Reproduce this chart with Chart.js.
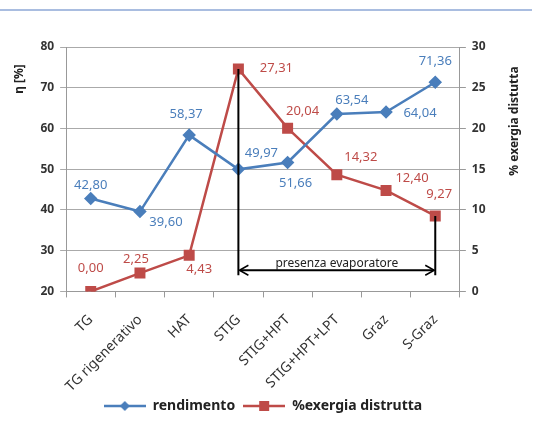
<!DOCTYPE html>
<html>
<head>
<meta charset="utf-8">
<script src="https://cdn.jsdelivr.net/npm/chart.js@4.4.0/dist/chart.umd.min.js"></script>
<style>
  html, body { margin: 0; padding: 0; background: #fff; }
  #wrap { position: relative; width: 539px; height: 435px; }
  #topline { position: absolute; left: 0; top: 9px; width: 532px; height: 2px; background: #a9bde0; }
</style>
</head>
<body>
<div id="wrap">
  <div id="topline"></div>
  <canvas id="c" width="539" height="435"></canvas>
</div>
<script>
// --- dati ---
const categories = ['TG', 'TG rigenerativo', 'HAT', 'STIG', 'STIG+HPT', 'STIG+HPT+LPT', 'Graz', 'S-Graz'];
const rendimento = [42.80, 39.60, 58.37, 49.97, 51.66, 63.54, 64.04, 71.36];
const exergia = [0.00, 2.25, 4.43, 27.31, 20.04, 14.32, 12.40, 9.27];
const etaTicks = [20, 30, 40, 50, 60, 70, 80];
const exTicks = [0, 5, 10, 15, 20, 25, 30];

// posizione etichette (offset in px)
const blueLabelPos = [[0, -13], [26, 11], [-3, -21], [23, -16], [8, 21], [15, -14], [34, 1], [0, -21]];
const redLabelPos = [[0, -23], [-4, -14], [10, 14], [38, -1], [15, -17], [24, -17], [26, -12], [4, -22]];

const BLUE = '#4a7ebb';
const RED = '#be4b48';
const FONT = '"Noto Sans", "Open Sans", sans-serif';
const LEFT_TITLE = 'η [%]';
const RIGHT_TITLE = '% exergia distutta';

function legendIcon(color, shape) {
  const cv = document.createElement('canvas');
  cv.width = 42; cv.height = 12;
  const g = cv.getContext('2d');
  g.strokeStyle = color; g.lineWidth = 2.5;
  g.beginPath(); g.moveTo(0, 6); g.lineTo(42, 6); g.stroke();
  g.fillStyle = color;
  if (shape === 'diamond') {
    g.beginPath(); g.moveTo(21, 1); g.lineTo(26, 6); g.lineTo(21, 11); g.lineTo(16, 6); g.closePath(); g.fill();
  } else {
    g.fillRect(16, 1, 10, 10);
  }
  return cv;
}
const iconBlue = legendIcon(BLUE, 'diamond');
const iconRed = legendIcon(RED, 'square');

// --- etichette e freccia ---
const annotPlugin = {
  id: 'annot',
  afterDatasetsDraw(chart) {
    const ctx = chart.ctx;
    const xs = chart.scales.x, y = chart.scales.y, y1 = chart.scales.y1;
    const redMeta = chart.getDatasetMeta(1);
    const area = chart.chartArea;
    // linee nere
    const xa = xs.getPixelForValue(3), xb = xs.getPixelForValue(7);
    const yArrow = y1.getPixelForValue(2.6);
    const yBottom = y1.getPixelForValue(2.0);
    ctx.save();
    ctx.strokeStyle = '#000'; ctx.fillStyle = '#000'; ctx.lineWidth = 2;
    ctx.beginPath();
    ctx.moveTo(xa, redMeta.data[3].y); ctx.lineTo(xa, yBottom);
    ctx.moveTo(xb, redMeta.data[7].y); ctx.lineTo(xb, yBottom);
    ctx.moveTo(xa + 2, yArrow); ctx.lineTo(xb - 2, yArrow);
    ctx.stroke();
    ctx.lineWidth = 1.5;
    ctx.beginPath();
    ctx.moveTo(xa + 10, yArrow - 5); ctx.lineTo(xa + 1, yArrow); ctx.lineTo(xa + 10, yArrow + 5);
    ctx.moveTo(xb - 10, yArrow - 5); ctx.lineTo(xb - 1, yArrow); ctx.lineTo(xb - 10, yArrow + 5);
    ctx.stroke();
    ctx.font = '12px ' + FONT;
    ctx.textAlign = 'center'; ctx.textBaseline = 'bottom';
    ctx.fillStyle = '#222';
    ctx.fillText('presenza evaporatore', (xa + xb) / 2, yArrow - 1);

    // etichette dati
    ctx.font = '13px ' + FONT;
    ctx.textBaseline = 'middle';
    const blueMeta = chart.getDatasetMeta(0);
    rendimento.forEach((v, i) => {
      const p = blueMeta.data[i];
      ctx.fillStyle = BLUE;
      ctx.fillText(v.toFixed(2).replace('.', ','), p.x + blueLabelPos[i][0], p.y + blueLabelPos[i][1]);
    });
    exergia.forEach((v, i) => {
      const p = redMeta.data[i];
      ctx.fillStyle = RED;
      ctx.fillText(v.toFixed(2).replace('.', ','), p.x + redLabelPos[i][0], p.y + redLabelPos[i][1]);
    });

    // titoli assi (dal basso verso l'alto)
    ctx.font = 'bold 12px ' + FONT;
    ctx.fillStyle = '#222';
    ctx.textAlign = 'center'; ctx.textBaseline = 'middle';
    ctx.save();
    ctx.translate(y.left + 8, area.top + 32);
    ctx.rotate(-Math.PI / 2);
    ctx.fillText(LEFT_TITLE, 0, 0);
    ctx.restore();
    ctx.translate(y1.right + 1, area.top + 74);
    ctx.rotate(-Math.PI / 2);
    ctx.fillText(RIGHT_TITLE, 0, 0);
    ctx.restore();
  }
};

new Chart(document.getElementById('c'), {
  type: 'line',
  data: {
    labels: categories,
    datasets: [
      {
        label: 'rendimento', data: rendimento, yAxisID: 'y',
        borderColor: BLUE, backgroundColor: BLUE, borderWidth: 2.5,
        pointStyle: 'rectRot', pointRadius: 5, pointHoverRadius: 5, tension: 0
      },
      {
        label: '%exergia distrutta', data: exergia, yAxisID: 'y1',
        borderColor: RED, backgroundColor: RED, borderWidth: 2.5,
        pointStyle: 'rect', pointRadius: 6, pointHoverRadius: 6, tension: 0
      }
    ]
  },
  options: {
    responsive: false,
    animation: false,
    layout: { padding: { left: 12, right: 25, top: 47, bottom: 12 } },
    plugins: {
      tooltip: { enabled: false },
      legend: {
        position: 'bottom',
        labels: {
          usePointStyle: true, pointStyleWidth: 42, padding: 8,
          color: '#222', font: { family: FONT, size: 14, weight: 'bold' },
          generateLabels(chart) {
            return chart.data.datasets.map((ds, i) => ({
              text: ds.label, pointStyle: i === 0 ? iconBlue : iconRed,
              fillStyle: ds.borderColor, strokeStyle: ds.borderColor,
              lineWidth: 0, hidden: false, datasetIndex: i, fontColor: '#222'
            }));
          }
        }
      }
    },
    scales: {
      x: {
        offset: true,
        afterFit(s) { s.height -= 18; },
        grid: { offset: true, drawOnChartArea: false, tickLength: 6, color: '#999' },
        border: { color: '#999' },
        ticks: { minRotation: 45, maxRotation: 45, padding: 14, color: '#333', font: { family: FONT, size: 14 } }
      },
      y: {
        position: 'left', min: 20, max: 80,
        afterBuildTicks(s) { s.ticks = etaTicks.map(v => ({ value: v })); },
        grid: { color: '#aaa', tickLength: 6 },
        border: { color: '#999' },
        ticks: { color: '#333', font: { family: FONT, size: 12, weight: 'bold' }, padding: 6 },
        title: { display: true, text: LEFT_TITLE, color: 'rgba(0,0,0,0)', font: { family: FONT, size: 12, weight: 'bold' } }
      },
      y1: {
        position: 'right', min: 0, max: 30,
        afterBuildTicks(s) { s.ticks = exTicks.map(v => ({ value: v })); },
        grid: { drawOnChartArea: false, tickLength: 6, color: '#999' },
        border: { color: '#999' },
        ticks: { color: '#333', font: { family: FONT, size: 12, weight: 'bold' }, padding: 6 },
        title: { display: true, text: RIGHT_TITLE, color: 'rgba(0,0,0,0)', font: { family: FONT, size: 12, weight: 'bold' } }
      }
    }
  },
  plugins: [annotPlugin]
});
</script>
</body>
</html>
